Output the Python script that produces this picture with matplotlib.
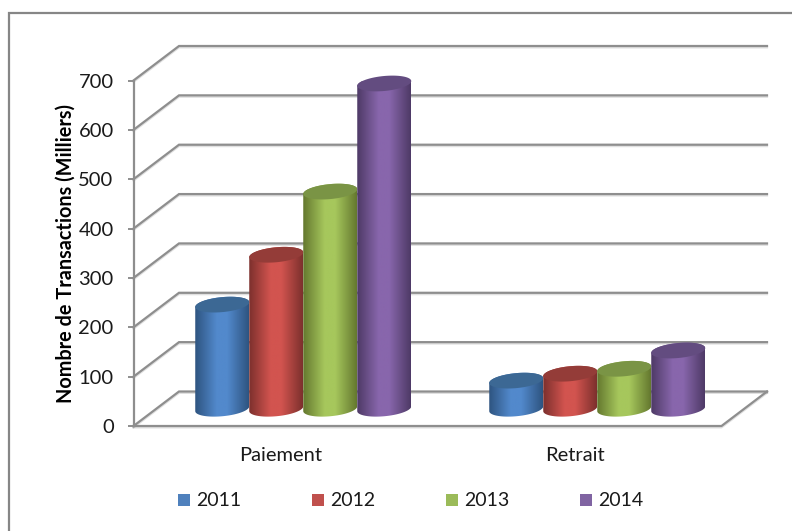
import numpy as np
import matplotlib
matplotlib.use('Agg')
import matplotlib.pyplot as plt
import matplotlib.patheffects as pe
from matplotlib.colors import LinearSegmentedColormap
from matplotlib.patches import PathPatch, Polygon, Rectangle
from matplotlib.path import Path

# ------------ Data ---------------
categories = ['Paiement', 'Retrait']
years = ['2011', '2012', '2013', '2014']
paiement = [211, 312, 440, 659]
retrait = [57, 71, 81, 118]
yticks = [0, 100, 200, 300, 400, 500, 600, 700]

# ------------ Colours ---------------
light = ['#5289CC', '#D2544F', '#A6C75C', '#8866AC']
dark = ['#2E5480', '#7C302D', '#64782F', '#4E3A66']
topc = ['#3C6894', '#943C38', '#7A9445', '#634C80']
legendc = ['#4F81BD', '#C0504D', '#9BBB59', '#8064A2']
GRID = '#8E8E8E'
TEXT = '#1a1a1a'

W, H = 792, 531
plt.rcParams['font.family'] = ['Lato', 'DejaVu Sans']

fig = plt.figure(figsize=(W / 100, H / 100), dpi=100)

# full figure overlay in pixels for the frame and the legend
bg = fig.add_axes([0, 0, 1, 1])
bg.set_xlim(0, W)
bg.set_ylim(H, 0)
bg.axis('off')
bg.add_patch(Rectangle((9, 13), W + 20, H + 20, fc='white', ec='#868686', lw=1.6))

# front plane of the 3D box in pixels
L, R, B, T = 133.5, 721.5, 426, 80.5
ax = fig.add_axes([L / W, 1 - B / H, (R - L) / W, (B - T) / H])
ax.patch.set_alpha(0)
ax.set_xlim(0, len(categories))
ax.set_ylim(0, 700)
for s in ax.spines.values():
    s.set_visible(False)

# depth offset in data units
px_x = len(categories) / (R - L)
px_y = 700 / (B - T)
DX = 45.5 * px_x
DY = 34.5 * px_y

shadow = [pe.SimpleLineShadow(offset=(0, -1), shadow_color='k', alpha=0.12), pe.Normal()]

# walls
for v in yticks:
    ax.plot([0, DX, len(categories) + DX], [v, v + DY, v + DY], color=GRID, lw=1.6,
            clip_on=False, solid_joinstyle='miter', zorder=1, path_effects=shadow)
ax.plot([0, 0], [0, 700], color=GRID, lw=1.6, clip_on=False, zorder=1)
ax.plot([0, len(categories), len(categories) + DX], [0, 0, DY], color=GRID, lw=1.6,
        clip_on=False, zorder=1, path_effects=shadow)

ax.set_xticks([0.5, 1.5])
ax.set_xticklabels(categories, fontsize=14.5, color=TEXT)
ax.tick_params(axis='x', length=0, pad=15)
ax.set_yticks(yticks)
ax.set_yticklabels([str(v) for v in yticks], fontsize=14.5, color=TEXT)
ax.tick_params(axis='y', length=4.3, width=1.4, color=GRID, pad=10)
ax.set_ylabel('Nombre de Transactions (Milliers)', fontsize=14.3, fontweight='bold',
              color='black', labelpad=2)

# cylinders
BAR_W = 54 * px_x
RY = 7.5 * px_y       # ellipse half height
TILT = 2.4 * px_y     # rise of the left end of an ellipse
t = np.linspace(0, 2 * np.pi, 90)


def ellipse(cx, cy):
    xs = cx + BAR_W / 2 * np.cos(t)
    ys = cy + RY * np.sin(t) + TILT * np.cos(t)
    return np.column_stack([xs, ys])


def cylinder(cx, value, i, z):
    a = BAR_W / 2
    base = DY / 2
    top = base + value
    tb = np.linspace(np.pi, 2 * np.pi, 45)
    low = np.column_stack([cx + a * np.cos(tb), base + RY * np.sin(tb) + TILT * np.cos(tb)])
    tu = np.linspace(0, np.pi, 45)
    up = np.column_stack([cx + a * np.cos(tu), top + RY * np.sin(tu) + TILT * np.cos(tu)])
    verts = np.vstack([low, up, low[:1]])
    clip = PathPatch(Path(verts), fc='none', ec='none', transform=ax.transData)
    ax.add_patch(clip)
    cmap = LinearSegmentedColormap.from_list(
        'c', [(0, dark[i]), (0.4, light[i]), (0.6, light[i]), (1, dark[i])])
    grad = np.linspace(0, 1, 128).reshape(1, -1)
    im = ax.imshow(grad, cmap=cmap, aspect='auto', zorder=z, interpolation='bilinear',
                   extent=[cx - a, cx + a, base - 2 * RY, top + 2 * RY])
    im.set_clip_path(clip)
    ax.add_patch(Polygon(ellipse(cx, top), closed=True, fc=topc[i], ec='none',
                         zorder=z + 0.5, clip_on=False))


for g, vals in enumerate([paiement, retrait]):
    for i, v in enumerate(vals):
        cx = g + 0.5 + DX / 2 + (i - 1.5) * BAR_W
        cylinder(cx, v, i, 3 + g * 10 + i)

ax.set_xlim(0, len(categories))
ax.set_ylim(0, 700)

# legend
lx = [178, 312, 446, 580]
for x, c, y in zip(lx, legendc, years):
    bg.add_patch(Rectangle((x, 494), 12, 12, fc=c, ec='none'))
    bg.text(x + 18, 500, y, fontsize=14, color=TEXT, va='center', ha='left')

fig.savefig('out.png', dpi=100)
